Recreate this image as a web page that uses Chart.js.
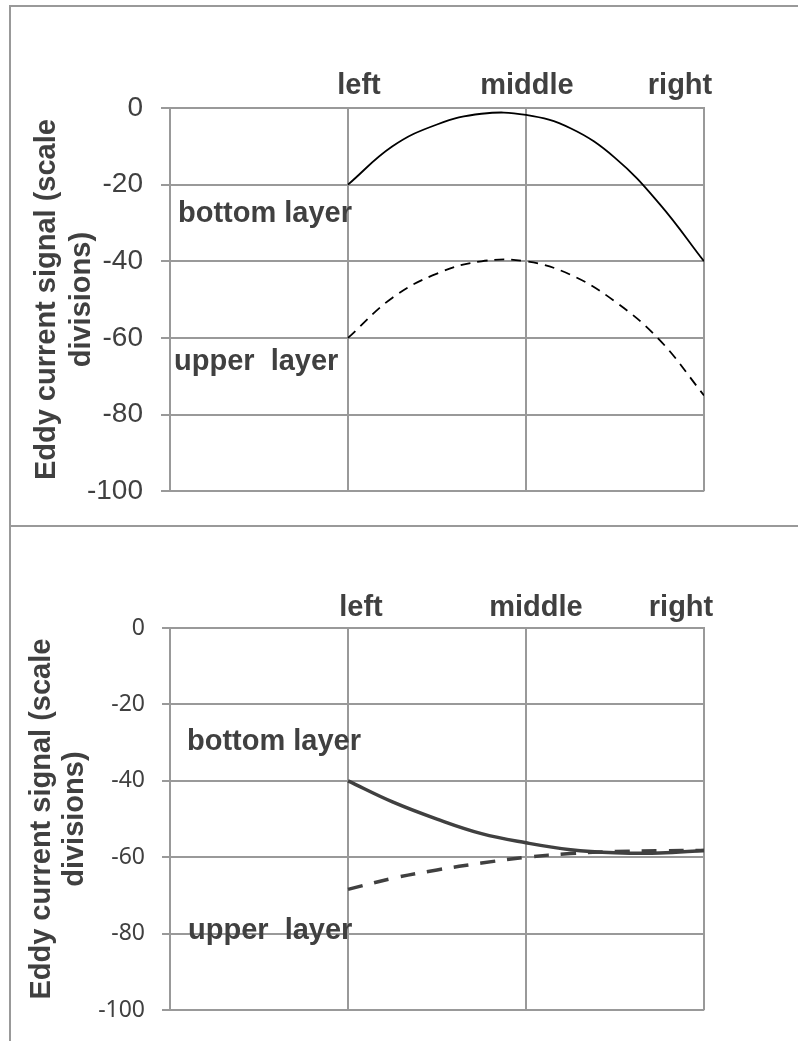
<!DOCTYPE html>
<html>
<head>
<meta charset="utf-8">
<title>Eddy current signal</title>
<script src="https://cdn.jsdelivr.net/npm/chart.js@4.4.1/dist/chart.umd.min.js"></script>
<style>
  html, body { margin: 0; padding: 0; background: #fff; overflow: hidden; }
  body { width: 798px; height: 1041px; position: relative; }
  .frame { position: absolute; box-sizing: border-box; border: 0 solid #999; }
  #frameTop { left: 9px; top: 5px; width: 800px; height: 522px; border-width: 2px 0 2px 2px; }
  #frameBottom { left: 9px; top: 527px; width: 800px; height: 520px; border-left-width: 2px; }
  canvas { position: absolute; left: 0; }
  #chartTop { top: 0; }
  #chartBottom { top: 526px; }
</style>
</head>
<body>
<div class="frame" id="frameTop"></div>
<div class="frame" id="frameBottom"></div>
<canvas id="chartTop" width="798" height="526"></canvas>
<canvas id="chartBottom" width="798" height="515"></canvas>
<script>
// probe positions along the sample and their names
const positions = [1, 2, 3];
const posLabels = ['left', 'middle', 'right'];
const xGrid = [0, 1, 2, 3];
const yTicks = [0, -20, -40, -60, -80, -100];
const yTitle = ['Eddy current signal (scale', 'divisions)'];

// readings taken every quarter step between left and right
const sampleX = [1, 1.25, 1.5, 1.75, 2, 2.25, 2.5, 2.75, 3];

// first sample
const bottomLayerA = [-20, -10, -4.3, -1.5, -1.8, -5.3, -13, -25, -40];
const upperLayerA = [-60, -49.5, -43.2, -40, -40, -43.5, -50.5, -60.5, -75];

// second sample
const bottomLayerB = [-40, -45.5, -50, -53.8, -56.2, -58, -58.8, -58.9, -58.2];
const upperLayerB = [-68.4, -65.5, -63.3, -61.5, -60, -59, -58.5, -58.3, -58.2];

const GRID = '#999';
const TEXT = '#404040';
const BOLD = '"Liberation Sans", Arial, sans-serif';

const toPoints = vals => sampleX.map((p, i) => ({ x: p, y: vals[i] }));

// position names above the plot and the layer captions
const panelText = {
    id: 'panelText',
    afterDraw(chart, args, opts) {
        const ctx = chart.ctx;
        const x = chart.scales.x;
        ctx.save();
        ctx.font = 'bold 29px ' + BOLD;
        ctx.fillStyle = TEXT;
        ctx.textBaseline = 'alphabetic';
        ctx.textAlign = 'center';
        posLabels.forEach((t, i) => {
            ctx.fillText(t, x.getPixelForValue(positions[i]) + opts.shift[i], opts.headY);
        });
        ctx.textAlign = 'left';
        opts.notes.forEach(n => ctx.fillText(n.text, n.x, n.y));
        ctx.restore();
    }
};

const makeChart = (id, cfg) => {
    const ctx = document.getElementById(id).getContext('2d');
    return new Chart(ctx, {
        type: 'line',
        data: {
            datasets: [{
                label: 'bottom layer',
                data: toPoints(cfg.bottom),
                borderColor: cfg.lineColor,
                borderWidth: cfg.lineWidth,
                fill: false
            }, {
                label: 'upper layer',
                data: toPoints(cfg.upper),
                borderColor: cfg.lineColor,
                borderWidth: cfg.lineWidth,
                borderDash: cfg.dash,
                fill: false
            }]
        },
        options: {
            responsive: false,
            devicePixelRatio: 1,
            animation: false,
            elements: {
                point: { radius: 0 },
                line: { tension: 0.4, capBezierPoints: false }
            },
            layout: { padding: { left: 0, right: 94, top: 0, bottom: cfg.bottomPad } },
            scales: {
                x: {
                    type: 'linear',
                    position: 'top',
                    min: 0,
                    max: 3,
                    afterBuildTicks: s => { s.ticks = xGrid.map(v => ({ value: v })); },
                    afterFit: s => { s.height = cfg.headH; },
                    ticks: { display: false },
                    grid: { color: GRID, lineWidth: 2, drawTicks: false },
                    border: { color: GRID, width: 2 }
                },
                y: {
                    min: -100,
                    max: 0,
                    afterBuildTicks: s => { s.ticks = yTicks.map(v => ({ value: v })); },
                    afterFit: s => { s.width = 170; },
                    ticks: {
                        color: TEXT,
                        padding: cfg.tickPad,
                        font: cfg.tickFont
                    },
                    grid: { color: GRID, lineWidth: 2, tickLength: cfg.tickLen },
                    border: { color: GRID, width: 2 },
                    title: {
                        display: true,
                        text: yTitle,
                        color: TEXT,
                        font: { family: BOLD, size: 29, weight: 'bold', lineHeight: cfg.titleLH },
                        padding: { top: cfg.titlePad, bottom: 0 }
                    }
                }
            },
            plugins: {
                legend: { display: false },
                tooltip: { enabled: false },
                panelText: { headY: cfg.headY, shift: cfg.shift, notes: cfg.notes }
            }
        },
        plugins: [panelText]
    });
};

makeChart('chartTop', {
    bottom: bottomLayerA,
    upper: upperLayerA,
    lineColor: '#000',
    lineWidth: 1.8,
    dash: [10, 7],
    bottomPad: 24,
    headH: 108,
    headY: 94,
    shift: [11, 1, -24],
    tickFont: { family: BOLD, size: 28 },
    tickPad: 18,
    tickLen: 9,
    titleLH: 1.2,
    titlePad: 30,
    notes: [
        { text: 'bottom layer', x: 178, y: 222 },
        { text: 'upper  layer', x: 174, y: 370 }
    ]
});

makeChart('chartBottom', {
    bottom: bottomLayerB,
    upper: upperLayerB,
    lineColor: '#404040',
    lineWidth: 3.5,
    dash: [15, 12],
    bottomPad: 21,
    headH: 102,
    headY: 90,
    shift: [13, 10, -23],
    tickFont: { family: '"Noto Sans", "Open Sans", sans-serif', size: 23 },
    tickPad: 17,
    tickLen: 8,
    titleLH: 1.15,
    titlePad: 25,
    notes: [
        { text: 'bottom layer', x: 187, y: 224 },
        { text: 'upper  layer', x: 188, y: 413 }
    ]
});
</script>
</body>
</html>
